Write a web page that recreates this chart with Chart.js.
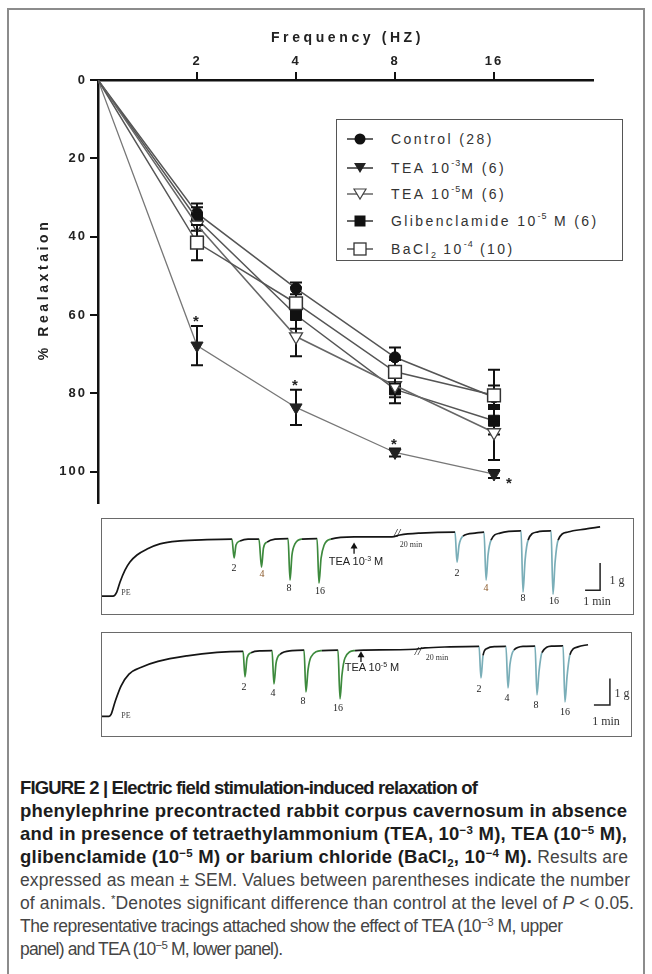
<!DOCTYPE html>
<html><head><meta charset="utf-8">
<script src="https://cdn.jsdelivr.net/npm/chart.js@4.4.0/dist/chart.umd.min.js"></script>
<style>
html,body{margin:0;padding:0;background:#fff;}
body{width:652px;height:974px;position:relative;overflow:hidden;font-family:"Liberation Sans",Arial,sans-serif;}
#frame{position:absolute;left:7px;top:8px;width:638px;height:1000px;border:2px solid #8c8c8c;border-bottom:none;box-sizing:border-box;}
#main{position:absolute;left:0;top:0;}
.legend{position:absolute;left:336px;top:119px;width:287px;height:142px;border:1.5px solid #555;box-sizing:border-box;background:#fff;}
.li{position:absolute;left:10px;height:18px;white-space:nowrap;}
.li svg{position:absolute;left:0;top:1px;}
.li span{position:absolute;left:44px;top:0;font-size:14px;line-height:18px;letter-spacing:2.4px;color:#333;}
.li sup{font-size:9px;vertical-align:0;position:relative;top:-7px;letter-spacing:1px;}
.li sub{font-size:9px;vertical-align:0;position:relative;top:4px;letter-spacing:1px;}
.pbox{position:absolute;border:1.5px solid #6a6a6a;box-sizing:border-box;pointer-events:none;}
.pc{position:absolute;}
.tl{position:absolute;transform:translate(-50%,-50%);white-space:nowrap;font-family:"Liberation Serif",serif;color:#222;}
.n{font-size:10px;}
.pe{font-size:8px;color:#444;}
.tea{font-family:"Liberation Sans",sans-serif;font-size:11px;color:#222;}
.tea sup{font-size:7px;vertical-align:0;position:relative;top:-4px;}
.mn{font-size:8px;color:#333;}
.sb{font-size:12px;color:#333;}
.brk{font-size:12px;font-style:italic;color:#111;}
.cap{position:absolute;left:20px;white-space:nowrap;font-size:17.5px;line-height:20px;height:20px;color:#454545;}
.cap b{color:#1c1c1c;font-size:18.5px;}
.cap sup{font-size:11.5px;vertical-align:0;position:relative;top:-6px;line-height:0;}
.cap sub{font-size:11.5px;vertical-align:0;position:relative;top:4px;line-height:0;}
</style></head>
<body>
<div id="frame"></div>
<canvas id="main" width="652" height="520" style="width:652px;height:520px"></canvas>

<div class="legend">
  <div class="li" style="top:10px"><svg width="28" height="16"><line x1="0" y1="8" x2="26" y2="8" stroke="#333" stroke-width="1.5"/><circle cx="13" cy="8" r="5.5" fill="#111"/></svg><span>Control (28)</span></div>
  <div class="li" style="top:39px"><svg width="28" height="16"><line x1="0" y1="8" x2="26" y2="8" stroke="#333" stroke-width="1.5"/><polygon points="7,3 19,3 13,13" fill="#222"/></svg><span>TEA 10<sup>-3</sup>M (6)</span></div>
  <div class="li" style="top:65px"><svg width="28" height="16"><line x1="0" y1="8" x2="26" y2="8" stroke="#666" stroke-width="1.5"/><polygon points="7,3 19,3 13,13" fill="#fff" stroke="#444" stroke-width="1.2"/></svg><span>TEA 10<sup>-5</sup>M (6)</span></div>
  <div class="li" style="top:92px"><svg width="28" height="16"><line x1="0" y1="8" x2="26" y2="8" stroke="#333" stroke-width="1.5"/><rect x="7.5" y="2.5" width="11" height="11" fill="#111"/></svg><span>Glibenclamide 10<sup>-5</sup> M (6)</span></div>
  <div class="li" style="top:120px"><svg width="28" height="16"><line x1="0" y1="8" x2="26" y2="8" stroke="#555" stroke-width="1.5"/><rect x="7" y="2" width="12" height="12" fill="#fff" stroke="#333" stroke-width="1.3"/></svg><span>BaCl<sub>2</sub> 10<sup>-4</sup> (10)</span></div>
</div>

<canvas id="tr1" class="pc" width="533" height="97" style="left:101px;top:518px;width:533px;height:97px"></canvas>
<div class="pbox" style="left:101px;top:518px;width:533px;height:97px"></div>
<canvas id="tr2" class="pc" width="531" height="105" style="left:101px;top:632px;width:531px;height:105px"></canvas>
<div class="pbox" style="left:101px;top:632px;width:531px;height:105px"></div>

<!-- upper tracing labels -->
<span class="tl pe" style="left:126px;top:592px">PE</span>
<span class="tl n" style="left:234px;top:567px">2</span>
<span class="tl n" style="left:262px;top:573px;color:#8b5a2b">4</span>
<span class="tl n" style="left:289px;top:587px">8</span>
<span class="tl n" style="left:320px;top:590px">16</span>
<span class="tl tea" style="left:356px;top:561px">TEA 10<sup>-3</sup> M</span>
<span class="tl brk" style="left:397px;top:533px">//</span>
<span class="tl mn" style="left:411px;top:544px">20 min</span>
<span class="tl n" style="left:457px;top:572px">2</span>
<span class="tl n" style="left:486px;top:587px;color:#8b5a2b">4</span>
<span class="tl n" style="left:523px;top:597px">8</span>
<span class="tl n" style="left:554px;top:600px">16</span>
<span class="tl sb" style="left:617px;top:580px">1 g</span>
<span class="tl sb" style="left:597px;top:601px">1 min</span>

<!-- lower tracing labels -->
<span class="tl pe" style="left:126px;top:715px">PE</span>
<span class="tl n" style="left:244px;top:686px">2</span>
<span class="tl n" style="left:273px;top:692px">4</span>
<span class="tl n" style="left:303px;top:700px">8</span>
<span class="tl n" style="left:338px;top:707px">16</span>
<span class="tl tea" style="left:372px;top:667px">TEA 10<sup>-5</sup> M</span>
<span class="tl brk" style="left:418px;top:651px">//</span>
<span class="tl mn" style="left:437px;top:657px">20 min</span>
<span class="tl n" style="left:479px;top:688px">2</span>
<span class="tl n" style="left:507px;top:697px">4</span>
<span class="tl n" style="left:536px;top:704px">8</span>
<span class="tl n" style="left:565px;top:711px">16</span>
<span class="tl sb" style="left:622px;top:693px">1 g</span>
<span class="tl sb" style="left:606px;top:721px">1 min</span>

<!-- caption -->
<div class="cap" data-r="478" style="top:778px"><b>FIGURE 2 | Electric field stimulation-induced relaxation of</b></div>
<div class="cap" data-r="627" style="top:801px"><b>phenylephrine precontracted rabbit corpus cavernosum in absence</b></div>
<div class="cap" data-r="627" style="top:824px"><b>and in presence of tetraethylammonium (TEA, 10<sup>−3</sup> M), TEA (10<sup>−5</sup> M),</b></div>
<div class="cap" data-r="628" style="top:847px"><b>glibenclamide (10<sup>−5</sup> M) or barium chloride (BaCl<sub>2</sub>, 10<sup>−4</sup> M).</b> Results are</div>
<div class="cap" data-r="630" style="top:870px">expressed as mean ± SEM. Values between parentheses indicate the number</div>
<div class="cap" data-r="634" style="top:893px">of animals. <sup>*</sup>Denotes significant difference than control at the level of <i>P</i> &lt; 0.05.</div>
<div class="cap" data-r="563" style="top:916px">The representative tracings attached show the effect of TEA (10<sup>−3</sup> M, upper</div>
<div class="cap" data-r="283" style="top:939px">panel) and TEA (10<sup>−5</sup> M, lower panel).</div>

<script>
// ---------- main chart data ----------
const freqLabels = ['', '2', '4', '8', '16'];
const control    = [0, 34.0, 53.2, 70.8, 81.0];
const controlErr = [0, 2.5, 1.5, 2.5, 3.0];
const tea3       = [0, 67.8, 83.6, 95.1, 100.6];
const tea3Err    = [0, 5.0, 4.5, 1.0, 1.0];
const tea3Sig    = [false, true, true, true, true];
const tea5       = [0, 37.0, 65.5, 78.0, 90.0];
const tea5Err    = [0, 3.0, 5.0, 3.0, 7.0];
const glib       = [0, 35.5, 60.0, 79.0, 87.0];
const glibErr    = [0, 3.0, 3.5, 3.5, 3.5];
const bacl2      = [0, 41.5, 57.0, 74.5, 80.5];
const bacl2Err   = [0, 4.5, 4.0, 3.0, 6.5];

// ---------- tracing data: [time (min), tension (g)] ----------
const trace1 = [[0,0],[0.8,0],[1.05,0.15],[1.27,0.52],[1.6,0.96],[1.93,1.26],[2.4,1.52],[3.07,1.74],[3.93,1.93],[5.27,2.04],[7.07,2.09],[8.73,2.11],
 [8.87,1.41],[9.0,1.89],[9.27,2.04],[9.8,2.11],
 [10.53,2.11],[10.7,1.07],[10.83,1.78],[11.07,2.0],[11.6,2.11],
 [12.47,2.13],[12.6,0.59],[12.73,1.52],[12.93,1.93],[13.4,2.11],
 [14.4,2.13],[14.53,0.48],[14.67,1.4],[14.87,1.88],[15.33,2.11],
 [16.87,2.19],[19.4,2.19],[19.93,2.26],[21.27,2.33],[23.6,2.37],
 [23.73,1.26],[23.87,1.89],[24.13,2.22],[24.93,2.33],
 [25.53,2.37],[25.67,0.59],[25.8,1.52],[26.0,2.07],[26.6,2.33],
 [28.0,2.41],[28.13,0.15],[28.27,1.33],[28.47,2.07],[29.07,2.37],
 [30.0,2.41],[30.13,0.07],[30.27,1.26],[30.47,2.07],[31.13,2.37],[32.27,2.48],[33.27,2.56]];
const trace2 = [[0,0],[0.5,0],[0.63,0.07],[0.88,0.55],[1.25,1.14],[1.75,1.59],[2.56,1.86],[3.56,2.07],[5.38,2.28],[7.25,2.41],[8.88,2.45],
 [9.0,1.49],[9.13,2.2],[9.38,2.4],[10.06,2.47],
 [10.69,2.48],[10.81,1.22],[10.94,2.0],[11.19,2.34],[11.94,2.48],
 [12.69,2.5],[12.81,0.92],[12.94,1.75],[13.13,2.24],[13.81,2.48],
 [14.81,2.5],[14.94,0.66],[15.06,1.55],[15.25,2.2],[15.88,2.48],
 [16.5,2.5],[19.63,2.53],[20.25,2.58],[21.81,2.62],[23.63,2.64],
 [23.75,1.45],[23.88,2.3],[24.13,2.56],[24.69,2.63],
 [25.31,2.64],[25.44,1.07],[25.56,1.95],[25.81,2.5],[26.44,2.64],
 [27.13,2.65],[27.25,0.81],[27.38,1.7],[27.56,2.4],[28.19,2.65],
 [28.88,2.66],[29.0,0.54],[29.13,1.5],[29.31,2.32],[29.81,2.62],[30.44,2.7]];

// ---------- main chart ----------
function series(label, vals, errs, st) {
  return Object.assign({
    label, err: errs,
    data: vals.map((v, i) => ({x: i, y: v})),
    borderColor: '#555', borderWidth: 1.5, tension: 0,
    pointRadius: vals.map((v, i) => i === 0 ? 0 : st.r),
    pointHoverRadius: vals.map((v, i) => i === 0 ? 0 : st.r),
    pointStyle: st.style, pointRotation: st.rot || 0,
    pointBackgroundColor: st.bg, pointBorderColor: st.bc, pointBorderWidth: st.bw || 1,
    order: st.order
  }, st.extra || {});
}

const errPlugin = {
  id: 'errbars',
  beforeDatasetDraw(chart, args) {
    const ds = chart.data.datasets[args.index];
    if (!ds.err) return;
    const {ctx} = chart, xs = chart.scales.x, ys = chart.scales.y;
    ctx.save();
    ctx.strokeStyle = '#111'; ctx.lineWidth = 2;
    ds.data.forEach((p, i) => {
      const e = ds.err[i]; if (!e) return;
      const px = xs.getPixelForValue(p.x);
      const y1 = ys.getPixelForValue(p.y - e), y2 = ys.getPixelForValue(p.y + e);
      ctx.beginPath();
      ctx.moveTo(px, y1); ctx.lineTo(px, y2);
      ctx.moveTo(px - 6, y1); ctx.lineTo(px + 6, y1);
      ctx.moveTo(px - 6, y2); ctx.lineTo(px + 6, y2);
      ctx.stroke();
    });
    ctx.restore();
  }
};
const starPlugin = {
  id: 'stars',
  afterDatasetsDraw(chart) {
    const {ctx} = chart, xs = chart.scales.x, ys = chart.scales.y;
    chart.data.datasets.forEach(ds => {
      if (!ds.sig) return;
      ctx.save();
      ctx.fillStyle = '#222'; ctx.font = 'bold 15px "Liberation Sans"';
      ctx.textAlign = 'center'; ctx.textBaseline = 'middle';
      const last = ds.data.length - 1;
      ds.data.forEach((p, i) => {
        if (!ds.sig[i]) return;
        const px = xs.getPixelForValue(p.x);
        if (i === last) {
          ctx.fillText('*', px + 16, ys.getPixelForValue(p.y) + 10);
        } else {
          ctx.fillText('*', px, ys.getPixelForValue(p.y - ds.err[i]) - 4);
        }
      });
      ctx.restore();
    });
  }
};
const titlePlugin = {
  id: 'titles',
  beforeDraw(chart) { chart.ctx.letterSpacing = '2px'; },
  afterDraw(chart) {
    const {ctx} = chart, xs = chart.scales.x, ys = chart.scales.y;
    ctx.save();
    ctx.letterSpacing = '3.6px';
    ctx.font = 'bold 14px "Liberation Sans"'; ctx.fillStyle = '#222';
    ctx.textAlign = 'center'; ctx.textBaseline = 'middle';
    ctx.fillText('Frequency (HZ)', (xs.left + xs.right) / 2 + 2, 38);
    ctx.translate(44, (ys.top + ys.bottom) / 2);
    ctx.rotate(-Math.PI / 2);
    ctx.fillText('% Realaxtaion', 2, 0);
    ctx.restore();
  }
};

const tickFont = {family: '"Liberation Sans"', weight: 'bold', size: 13};
new Chart(document.getElementById('main'), {
  type: 'line',
  data: {datasets: [
    series('Control (28)', control, controlErr, {style: 'circle', r: 5.5, bg: '#111', bc: '#111', order: 3}),
    series('TEA 10-3M (6)', tea3, tea3Err, {style: 'triangle', rot: 180, r: 7, bg: '#222', bc: '#222', order: 4,
      extra: {borderColor: '#777', borderWidth: 1.3, sig: tea3Sig}}),
    series('TEA 10-5M (6)', tea5, tea5Err, {style: 'triangle', rot: 180, r: 7.5, bg: '#fff', bc: '#444', bw: 1.3, order: 1,
      extra: {borderColor: '#666'}}),
    series('Glibenclamide 10-5 M (6)', glib, glibErr, {style: 'rect', r: 7.8, bg: '#111', bc: '#111', order: 2}),
    series('BaCl2 10-4 (10)', bacl2, bacl2Err, {style: 'rect', r: 9, bg: '#fff', bc: '#333', bw: 1.5, order: 0})
  ]},
  options: {
    responsive: false, animation: false, devicePixelRatio: 1,
    layout: {padding: {left: 0, right: 59, top: 0, bottom: 17}},
    plugins: {legend: {display: false}, tooltip: {enabled: false}},
    scales: {
      x: {
        type: 'linear', position: 'top', min: 0, max: 5,
        afterFit(s) { s.height = 80; },
        ticks: {stepSize: 1, autoSkip: false, maxRotation: 0, includeBounds: false,
          callback: v => freqLabels[v] ?? '', font: tickFont, color: '#222', padding: 3},
        grid: {drawOnChartArea: false, drawTicks: true, tickLength: 8, lineWidth: 2,
          color: c => (c.tick && c.tick.value > 0 && c.tick.value < 5) ? '#111' : 'rgba(0,0,0,0)'},
        border: {display: true, color: '#111', width: 2.5}
      },
      y: {
        type: 'linear', reverse: true, min: 0, max: 108,
        afterFit(s) { s.width = 98; },
        ticks: {stepSize: 20, includeBounds: false, font: tickFont, color: '#222', padding: 3},
        grid: {drawOnChartArea: false, drawTicks: true, tickLength: 8, lineWidth: 2, color: '#111'},
        border: {display: true, color: '#111', width: 2.5}
      }
    }
  },
  plugins: [errPlugin, starPlugin, titlePlugin]
});

// ---------- tracings ----------
const annotPlugin = {
  id: 'annot',
  afterDatasetsDraw(chart, args, o) {
    const {ctx} = chart, xs = chart.scales.x, ys = chart.scales.y;
    ctx.save();
    ctx.strokeStyle = '#222'; ctx.fillStyle = '#111'; ctx.lineWidth = 1.5;
    const cx = xs.getPixelForValue(o.barT), cy = ys.getPixelForValue(o.barG);
    ctx.beginPath();
    ctx.moveTo(cx, ys.getPixelForValue(o.barG + 1)); ctx.lineTo(cx, cy);
    ctx.lineTo(xs.getPixelForValue(o.barT - 1), cy);
    ctx.stroke();
    const ax = xs.getPixelForValue(o.arrowT);
    const aTop = ys.getPixelForValue(o.arrowTop), aBot = ys.getPixelForValue(o.arrowBot);
    ctx.lineWidth = 1.4;
    ctx.beginPath(); ctx.moveTo(ax, aTop + 5); ctx.lineTo(ax, aBot); ctx.stroke();
    ctx.beginPath(); ctx.moveTo(ax, aTop); ctx.lineTo(ax - 3.5, aTop + 6); ctx.lineTo(ax + 3.5, aTop + 6); ctx.closePath(); ctx.fill();
    ctx.restore();
  }
};
function traceChart(id, pts, cfg) {
  new Chart(document.getElementById(id), {
    type: 'line',
    data: {datasets: [{
      data: pts.map(([t, g]) => ({x: t, y: g})),
      borderColor: '#151515', borderWidth: 1.7, pointRadius: 0,
      cubicInterpolationMode: 'monotone',
      segment: {
        borderColor: c => {
          const lo = Math.min(c.p0.parsed.y, c.p1.parsed.y);
          if (c.p0.parsed.x > cfg.riseEnd && lo < cfg.dipBelow) {
            return c.p0.parsed.x < cfg.breakT ? '#3d8a3d' : '#7aaeb8';
          }
          return undefined;
        }
      }
    }]},
    options: {
      responsive: false, animation: false, devicePixelRatio: 1,
      layout: {padding: 0},
      plugins: {legend: {display: false}, tooltip: {enabled: false}, annot: cfg.annot},
      scales: {
        x: {type: 'linear', display: false, min: 0, max: cfg.xMax},
        y: {type: 'linear', display: false, min: cfg.yMin, max: cfg.yMax}
      }
    },
    plugins: [annotPlugin]
  });
}
traceChart('tr1', trace1, {xMax: 35.53, yMin: -0.70, yMax: 2.89, riseEnd: 8, dipBelow: 1.95, breakT: 19.6,
  annot: {barT: 33.27, barG: 0.22, arrowT: 16.87, arrowTop: 1.98, arrowBot: 1.57}});
traceChart('tr2', trace2, {xMax: 33.19, yMin: -0.78, yMax: 3.18, riseEnd: 8.5, dipBelow: 2.25, breakT: 19.8,
  annot: {barT: 31.81, barG: 0.43, arrowT: 16.25, arrowTop: 2.45, arrowBot: 2.05}});

// ---------- caption line fitting ----------
document.querySelectorAll('.cap').forEach(el => {
  const target = +el.dataset.r - 20;
  const w = el.getBoundingClientRect().width;
  const n = el.textContent.length;
  el.style.letterSpacing = ((target - w) / (n - 1)).toFixed(3) + 'px';
});
</script>
</body></html>
